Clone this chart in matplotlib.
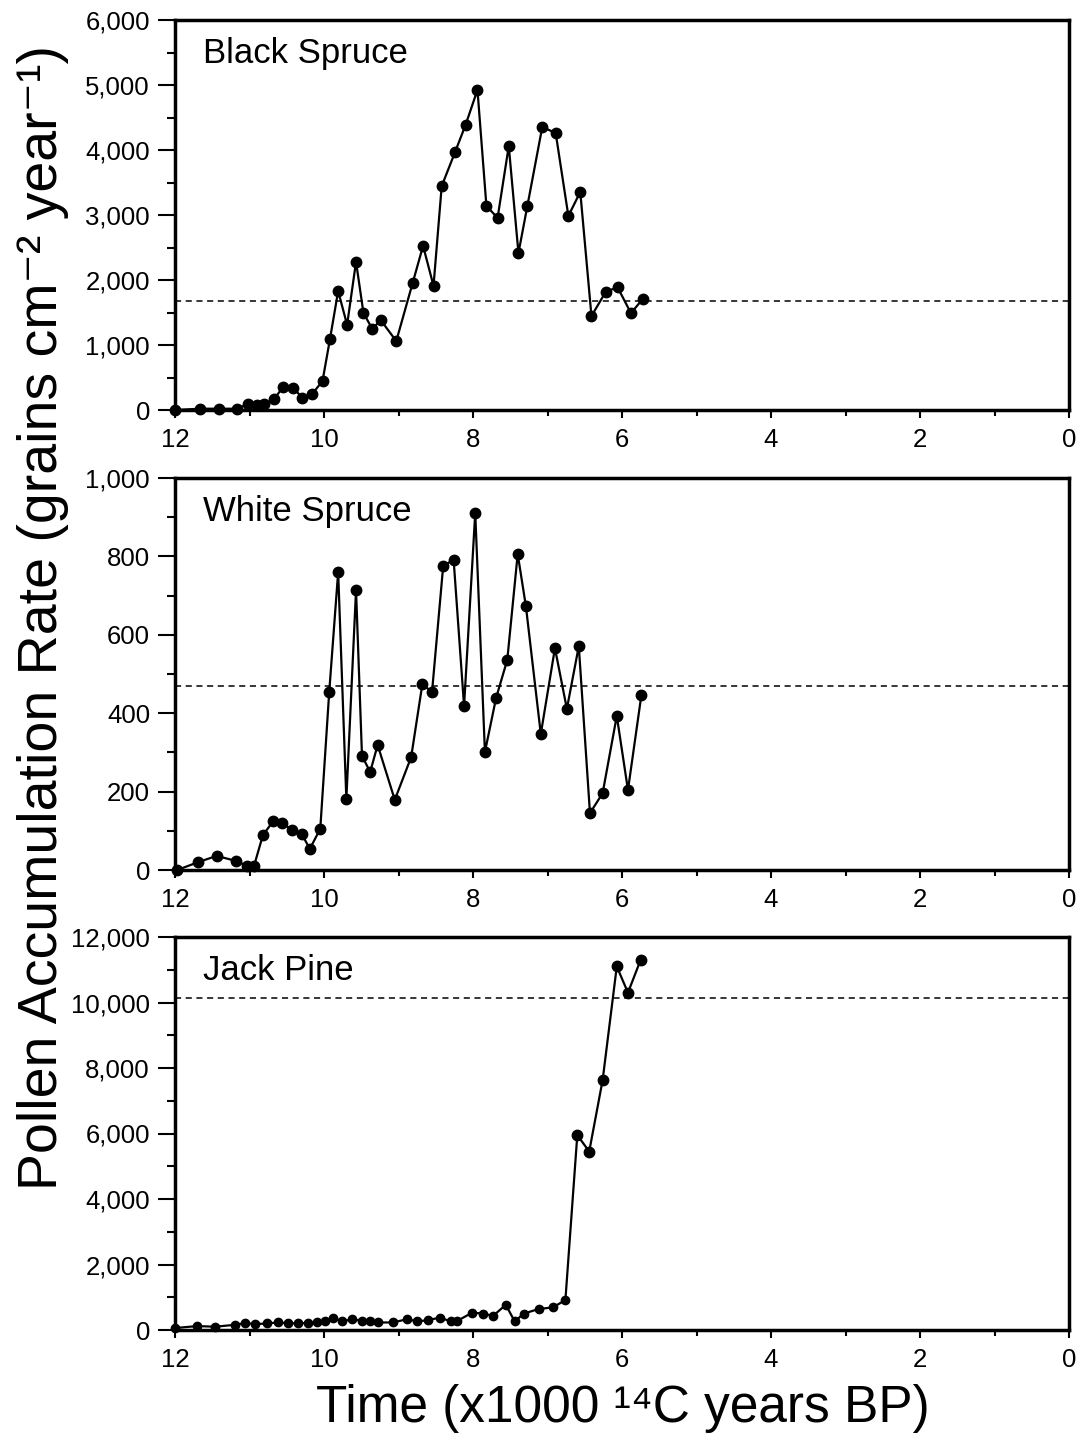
import matplotlib
matplotlib.use('Agg')
import matplotlib.pyplot as plt
from matplotlib.ticker import MultipleLocator, FuncFormatter

plt.rcParams['font.family'] = ['Liberation Sans', 'DejaVu Sans']

# ---------------- data ----------------
bs_age = [12.0, 11.66, 11.41, 11.17, 11.02, 10.90, 10.80, 10.67, 10.55, 10.41,
          10.29, 10.16, 10.02, 9.92, 9.81, 9.69, 9.57, 9.47, 9.35, 9.24,
          9.03, 8.81, 8.67, 8.53, 8.42, 8.24, 8.10, 7.94, 7.82, 7.67,
          7.52, 7.39, 7.27, 7.07, 6.89, 6.72, 6.56, 6.41, 6.22, 6.06,
          5.88, 5.72]
bs_val = [0, 20, 20, 20, 90, 75, 90, 170, 350, 340,
          185, 245, 445, 1090, 1830, 1310, 2280, 1490, 1245, 1385,
          1060, 1955, 2525, 1910, 3445, 3970, 4385, 4925, 3140, 2955,
          4060, 2415, 3140, 4355, 4260, 2985, 3355, 1445, 1815, 1890,
          1490, 1710]
bs_mean = 1680

ws_age = [11.97, 11.69, 11.44, 11.18, 11.03, 10.94, 10.82, 10.68, 10.56, 10.43,
          10.30, 10.19, 10.05, 9.93, 9.81, 9.70, 9.57, 9.49, 9.38, 9.28,
          9.05, 8.83, 8.68, 8.55, 8.40, 8.26, 8.12, 7.97, 7.84, 7.69,
          7.54, 7.40, 7.29, 7.09, 6.90, 6.74, 6.58, 6.43, 6.26, 6.07,
          5.92, 5.74]
ws_val = [0, 20, 36, 23, 10, 10, 89, 125, 120, 102,
          92, 54, 105, 454, 760, 181, 714, 291, 250, 319,
          179, 288, 474, 454, 776, 791, 418, 911, 301, 439,
          536, 806, 673, 347, 566, 411, 571, 145, 196, 393,
          204, 446]
ws_mean = 469

jp_age = [12.0, 11.7, 11.46, 11.19, 11.06, 10.92, 10.76, 10.62, 10.48, 10.35,
          10.21, 10.09, 9.98, 9.88, 9.76, 9.62, 9.49, 9.38, 9.27, 9.08,
          8.88, 8.75, 8.61, 8.44, 8.30, 8.21, 8.01, 7.86, 7.73, 7.56,
          7.44, 7.32, 7.12, 6.93, 6.76, 6.60, 6.44, 6.26, 6.07, 5.92,
          5.75]
jp_val = [60, 120, 100, 160, 210, 180, 200, 230, 210, 200,
          220, 230, 260, 380, 260, 330, 280, 260, 230, 230,
          330, 260, 300, 380, 260, 280, 530, 500, 430, 770,
          260, 500, 640, 690, 910, 5950, 5450, 7630, 11100, 10300,
          11300]
jp_mean = 10150
jp_small = 35  # number of early (small-marker) samples

titles = ['Black Spruce', 'White Spruce', 'Jack Pine']
ymaxes = [6000, 1000, 12000]
ymajor = [1000, 200, 2000]
xlabel = 'Time (x1000 \u00b9\u2074C years BP)'
ylabel = 'Pollen Accumulation Rate (grains cm\u207b\u00b2 year\u207b\u00b9)'

# ---------------- figure ----------------
W, H = 1083, 1443
fig = plt.figure(figsize=(W / 100, H / 100), dpi=100)

left_px, right_px = 175, 1069
panels_px = [(20, 410), (478, 870), (937, 1330)]

series = [(bs_age, bs_val, bs_mean), (ws_age, ws_val, ws_mean), (jp_age, jp_val, jp_mean)]

fmt = FuncFormatter(lambda v, p: f'{int(round(v)):,}')

for i, ((top, bot), (age, val, mean)) in enumerate(zip(panels_px, series)):
    ax = fig.add_axes([left_px / W, 1 - bot / H, (right_px - left_px) / W, (bot - top) / H])
    ax.set_xlim(12, 0)
    ax.set_ylim(0, ymaxes[i])
    ax.axhline(mean, color='black', lw=1.1, ls=(0, (4, 3)), zorder=2)
    ax.plot(age, val, '-', color='black', lw=1.6, zorder=3, clip_on=False)
    if i == 2:
        ax.plot(age[:jp_small], val[:jp_small], 'o', ms=6, color='black', zorder=4, clip_on=False)
        ax.plot(age[jp_small:], val[jp_small:], 'o', ms=7.5, color='black', zorder=4, clip_on=False)
    else:
        ax.plot(age, val, 'o', ms=7.5, color='black', zorder=4, clip_on=False)

    ax.xaxis.set_major_locator(MultipleLocator(2))
    ax.xaxis.set_minor_locator(MultipleLocator(1))
    ax.yaxis.set_major_locator(MultipleLocator(ymajor[i]))
    ax.yaxis.set_minor_locator(MultipleLocator(ymajor[i] / 2))
    ax.yaxis.set_major_formatter(fmt)
    ax.xaxis.set_major_formatter(FuncFormatter(lambda v, p: f'{int(round(v))}'))

    ax.tick_params(axis='both', which='both', direction='out', width=1.5,
                   labelsize=18.5, top=False, right=False, colors='black')
    ax.tick_params(axis='y', which='major', length=12, pad=6)
    ax.tick_params(axis='y', which='minor', length=6)
    ax.tick_params(axis='x', which='major', length=6, pad=7)
    ax.tick_params(axis='x', which='minor', length=4)
    for s in ax.spines.values():
        s.set_linewidth(2.5)
        s.set_color('black')

    ax.text(0.031, 0.957, titles[i], transform=ax.transAxes, ha='left', va='top',
            fontsize=25)

fig.text(0.040, 0.572, ylabel, rotation=90, ha='center', va='center', fontsize=40)
fig.text(0.575, 0.024, xlabel, ha='center', va='center', fontsize=37)

fig.savefig('out.png', dpi=100, facecolor='white')
